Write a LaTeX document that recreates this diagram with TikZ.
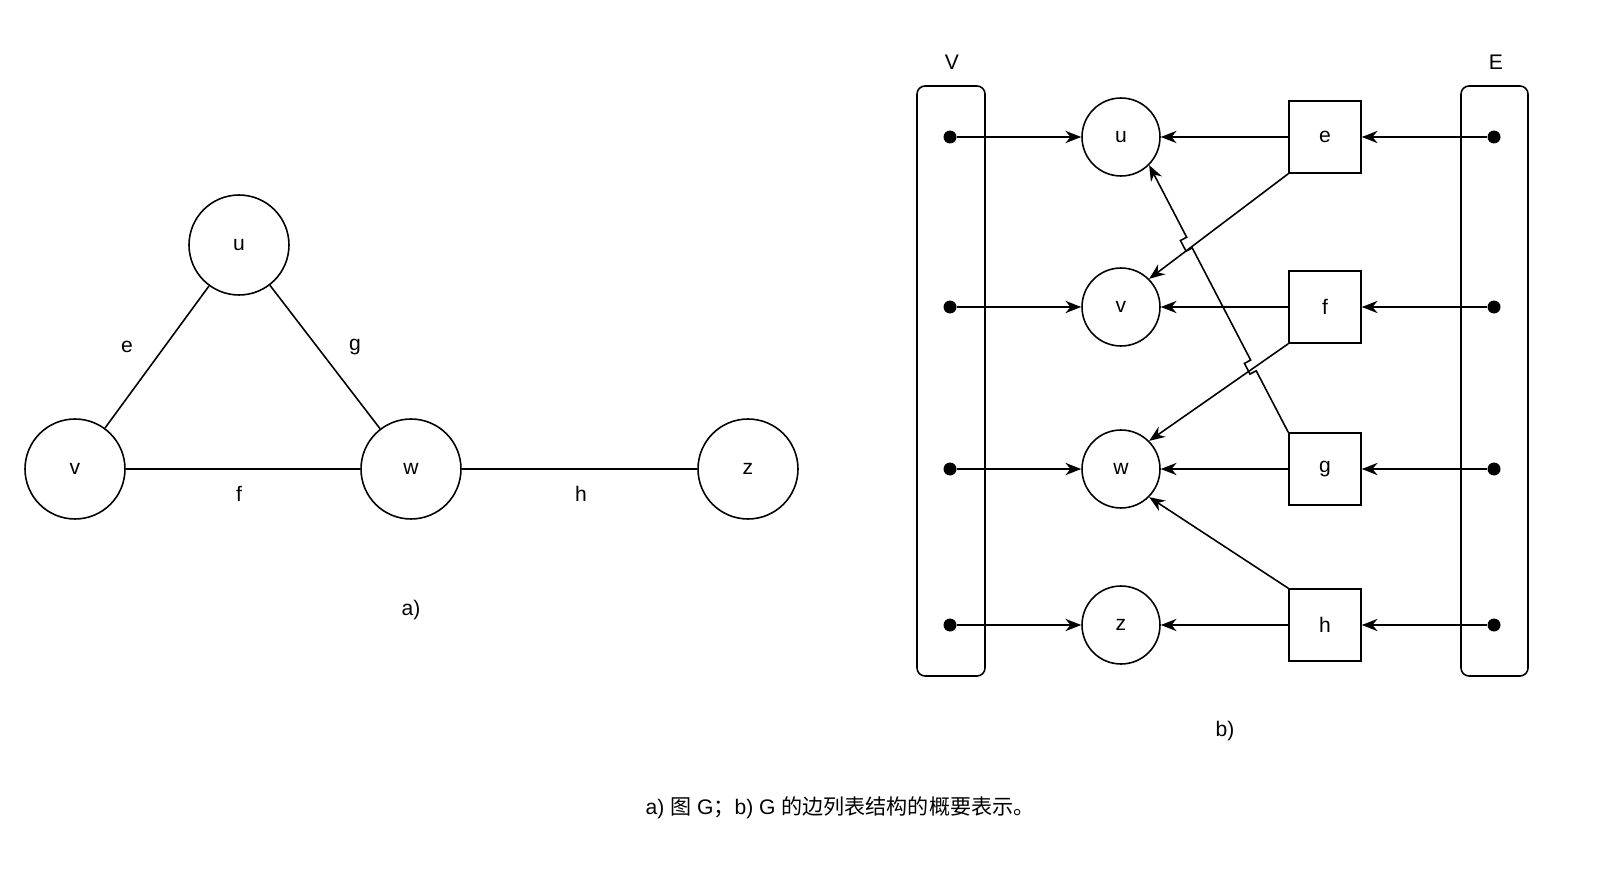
\documentclass[tikz,border=0pt]{standalone}
\usepackage{fontspec}
\setmainfont{Liberation Sans}
\newfontfamily\cjk{Noto Sans CJK SC}
\usetikzlibrary{calc,arrows.meta}
\begin{document}
\begin{tikzpicture}[x=0.02cm,y=-0.02cm,line width=0.9pt,
  vt/.style={circle,draw,minimum size=1.56cm,inner sep=0pt,font=\fontsize{12}{14}\selectfont},
  vt2/.style={vt,minimum size=2cm},
  ed/.style={rectangle,draw,minimum size=1.44cm,inner sep=0pt,font=\fontsize{12}{14}\selectfont},
  lb/.style={font=\fontsize{12}{14}\selectfont},
  dot/.style={circle,fill,inner sep=0pt,minimum size=0.26cm},
  ar/.style={-{Stealth[length=9pt,width=7pt]}},
  box/.style={draw,rounded corners=0.16cm}]
% a)
\node[vt2] (u) at (239,245) {u};
\node[vt2] (v) at (75,469) {v};
\node[vt2] (w) at (411,469) {w};
\node[vt2] (z) at (748,469) {z};
\draw (u) -- (v); \draw (u) -- (w); \draw (v) -- (w); \draw (w) -- (z);
\node[lb] (le) at (127,347) {e};
\node[lb] (lg) at (355,347) {g};
\node[lb] (lf) at (239,494) {f};
\node[lb] (lh) at (581,494) {h};
\node[lb] (la) at (411,610) {a)};
% b)
\draw[box] (917,86) rectangle (985,676);
\draw[box] (1461,86) rectangle (1528,676);
\node[lb] (lV) at (952,62) {V};
\node[lb] (lE) at (1496,62) {E};
\foreach \n/\y in {u/137,v/307,w/469,z/625}{
  \node[vt] (b\n) at (1121,\y) {\n};
  \node[dot] (d\n) at (950,\y) {};
  \draw[ar] (d\n) -- (b\n);
}
\foreach \n/\y in {e/137,f/307,g/469,h/625}{
  \node[ed] (s\n) at (1325,\y) {\n};
  \node[dot] (q\n) at (1494,\y) {};
  \draw[ar] (q\n) -- (s\n);
}
\draw[ar] (se) -- (bu);
\draw[ar] (sf) -- (bv);
\draw[ar] (sg) -- (bw);
\draw[ar] (sh) -- (bz);
\draw[ar] (se.south west) -- (bv.north east);
\draw[ar] (sf.south west) -- (bw.north east);
\draw[ar] (sh.north west) -- (bw.south east);
% g -> u with jumps
\coordinate (g0) at (sg.north west);
\coordinate (g1) at (bu.south east);
\coordinate (j1a) at ($(g0)!0.230!(g1)$);
\coordinate (j1b) at ($(g0)!0.270!(g1)$);
\coordinate (j2a) at ($(g0)!0.690!(g1)$);
\coordinate (j2b) at ($(g0)!0.730!(g1)$);
\draw[ar] (g0) -- (j1a) -- ($(j1a)!4pt!90:(j1b)$) -- ($(j1b)!4pt!-90:(j1a)$) -- (j1b)
  -- (j2a) -- ($(j2a)!4pt!90:(j2b)$) -- ($(j2b)!4pt!-90:(j2a)$) -- (j2b) -- (g1);
\node[lb] (lb) at (1225,731) {b)};
\node[lb] (cap) at (840,808) {a) {\cjk 图} G{\cjk ；}b) G {\cjk 的边列表结构的概要表示。}};
\pgfresetboundingbox
\useasboundingbox (0,0) rectangle (1600,875);
\end{tikzpicture}
\end{document}
